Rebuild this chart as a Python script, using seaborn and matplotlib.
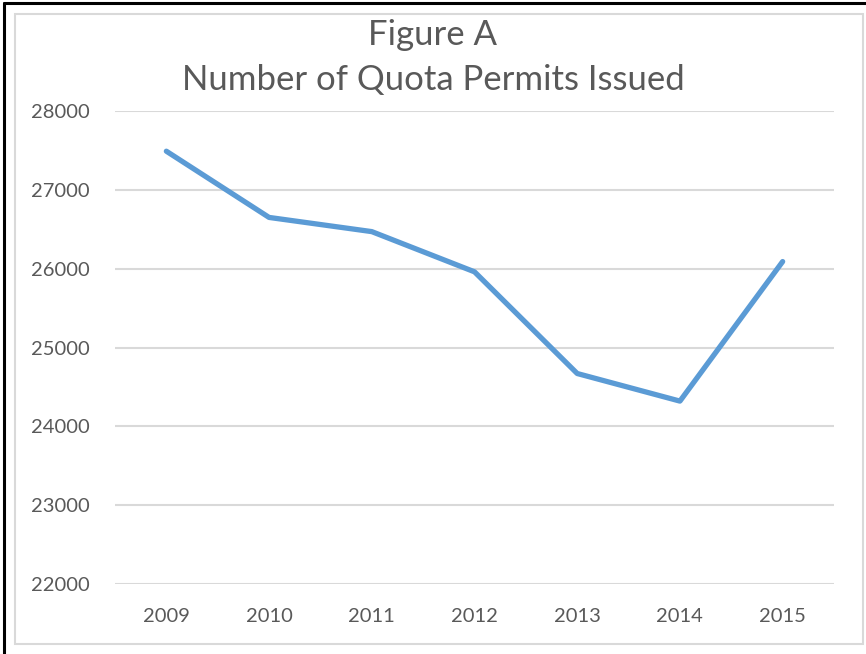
import matplotlib
matplotlib.use("Agg")
import matplotlib.pyplot as plt
import seaborn as sns
import pandas as pd
from matplotlib.patches import Rectangle
from matplotlib.lines import Line2D

# Dados
anos = ['2009', '2010', '2011', '2012', '2013', '2014', '2015']
permissoes = [27490, 26650, 26470, 25960, 24670, 24320, 26090]

df = pd.DataFrame({'Ano': anos, 'Permits': permissoes})

sns.set_theme(style="white")
plt.rcParams['font.family'] = ['Lato', 'DejaVu Sans']

W, H = 866, 654
fig = plt.figure(figsize=(W / 100, H / 100), dpi=100)
ax = fig.add_axes([115 / W, 1 - 584 / H, (834 - 115) / W, (584 - 111) / H])

sns.lineplot(data=df, x='Ano', y='Permits', ax=ax, color='#5B9BD5',
             linewidth=3.8, sort=False)
ax.lines[0].set_solid_capstyle('round')
ax.lines[0].set_solid_joinstyle('round')

ax.set_ylim(22000, 28000)
ax.set_yticks(range(22000, 28001, 1000))
ax.set_xlim(-0.5, len(anos) - 0.5)
ax.yaxis.grid(True, color='#D9D9D9', linewidth=1.5)
ax.set_axisbelow(True)
for s in ax.spines.values():
    s.set_visible(False)
ax.set_xlabel('')
ax.set_ylabel('')
ax.tick_params(axis='both', length=0, labelsize=14.5, labelcolor='#595959')
ax.tick_params(axis='y', pad=18)
ax.tick_params(axis='x', pad=17)

fig.text(0.5, 1 - 35 / H, 'Figure A', ha='center', va='center',
         fontsize=25, color='#595959')
fig.text(0.5, 1 - 80 / H, 'Number of Quota Permits Issued', ha='center',
         va='center', fontsize=25, color='#595959')

# Bordas
fig.patches.append(Rectangle((15 / W, 1 - 644 / H), (863 - 15) / W, (644 - 14) / H,
                             transform=fig.transFigure, fill=False,
                             edgecolor='#D9D9D9', linewidth=1.5))
fig.lines.append(Line2D([4 / W, 4 / W], [0, 1 - 3 / H], transform=fig.transFigure,
                        color='black', linewidth=2.2))
fig.lines.append(Line2D([4 / W, 1], [1 - 3 / H, 1 - 3 / H], transform=fig.transFigure,
                        color='black', linewidth=2.2))

fig.savefig('out.png', dpi=100, facecolor='white')
